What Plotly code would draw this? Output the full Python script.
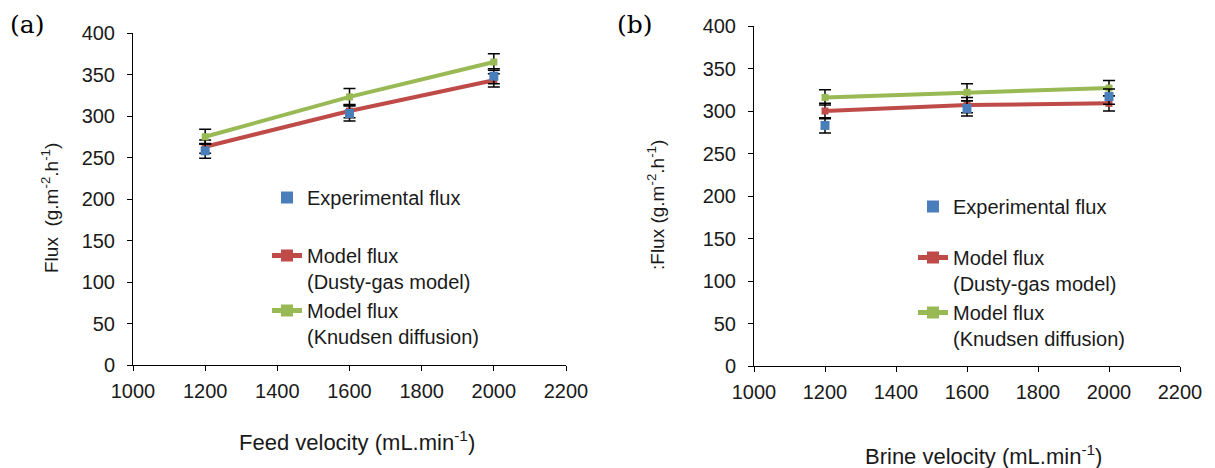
import plotly.graph_objects as go

# Panel (a): feed velocity
feed_velocity = [1200, 1600, 2000]
exp_flux_a = [258, 303, 348]
dusty_flux_a = [263, 306, 343]
knudsen_flux_a = [275, 323, 365]
err_exp_a = [9, 9, 9]
err_dusty_a = [8, 8, 8]
err_knudsen_a = [9, 10, 10]

# Panel (b): brine velocity
brine_velocity = [1200, 1600, 2000]
exp_flux_b = [283, 303, 317]
dusty_flux_b = [300, 307, 309]
knudsen_flux_b = [316, 322, 327]
err_exp_b = [9, 9, 9]
err_dusty_b = [9, 9, 9]
err_knudsen_b = [9, 10, 9]

x_ticks = [1000, 1200, 1400, 1600, 1800, 2000, 2200]
y_ticks = [0, 50, 100, 150, 200, 250, 300, 350, 400]

BLUE = "#4A7EBB"
RED = "#BE4B48"
GREEN = "#98B954"
FONT = "Liberation Sans, Arial, sans-serif"
TXT = "#1a1a1a"

fig = go.Figure()

def err(vals):
    return dict(type="data", array=vals, visible=True, color="black", thickness=1.5, width=6)

def add_panel(xv, exp, dusty, knud, e_exp, e_dusty, e_knud, xa, ya, leg):
    fig.add_trace(go.Scatter(
        x=xv, y=dusty, mode="lines+markers", name="Model flux<br>(Dusty-gas model)",
        line=dict(color=RED, width=4), marker=dict(symbol="square", size=7, color=RED),
        error_y=err(e_dusty), xaxis=xa, yaxis=ya, legend=leg, legendgroup="model" + leg,
        legendrank=2))
    fig.add_trace(go.Scatter(
        x=xv, y=knud, mode="lines+markers", name="Model flux<br>(Knudsen diffusion)",
        line=dict(color=GREEN, width=4), marker=dict(symbol="square", size=7, color=GREEN),
        error_y=err(e_knud), xaxis=xa, yaxis=ya, legend=leg, legendgroup="model" + leg,
        legendrank=3))
    fig.add_trace(go.Scatter(
        x=xv, y=exp, mode="markers", name="Experimental flux",
        marker=dict(symbol="square", size=9, color=BLUE),
        error_y=err(e_exp), xaxis=xa, yaxis=ya, legend=leg, legendgroup="exp" + leg,
        legendrank=1))

add_panel(feed_velocity, exp_flux_a, dusty_flux_a, knudsen_flux_a,
          err_exp_a, err_dusty_a, err_knudsen_a, "x", "y", "legend")
add_panel(brine_velocity, exp_flux_b, dusty_flux_b, knudsen_flux_b,
          err_exp_b, err_dusty_b, err_knudsen_b, "x2", "y2", "legend2")

W, H = 1215, 468

def xdom(l, r):
    return [l / W, r / W]

def ydom(t, b):
    return [1 - b / H, 1 - t / H]

axis_common = dict(
    showgrid=False, zeroline=False, showline=True, linecolor="black", linewidth=1,
    ticks="outside", ticklen=5, tickcolor="black", automargin=False,
    tickfont=dict(family=FONT, size=20, color=TXT),
)

legend_common = dict(
    font=dict(family=FONT, size=20, color=TXT),
    bgcolor="rgba(0,0,0,0)", traceorder="grouped",
    xanchor="left", yanchor="top", itemsizing="constant", valign="top",
)

fig.update_layout(
    width=W, height=H, margin=dict(l=0, r=0, t=0, b=0, autoexpand=False),
    plot_bgcolor="white", paper_bgcolor="white",
    xaxis=dict(domain=xdom(133, 566), range=[1000, 2200], tickvals=x_ticks, anchor="y",
               ticklabelstandoff=3, **axis_common),
    yaxis=dict(domain=ydom(33, 365), range=[0, 400], tickvals=y_ticks, anchor="x",
               ticklabelstandoff=8, **axis_common),
    xaxis2=dict(domain=xdom(754, 1180), range=[1000, 2200], tickvals=x_ticks, anchor="y2",
                ticklabelstandoff=3, **axis_common),
    yaxis2=dict(domain=ydom(26, 366), range=[0, 400], tickvals=y_ticks, anchor="x2",
                ticklabelstandoff=8, **axis_common),
    legend=dict(x=267 / W, y=1 - 178 / H, tracegroupgap=29, **legend_common),
    legend2=dict(x=913 / W, y=1 - 187 / H, tracegroupgap=22, **legend_common),
    showlegend=True,
)

annots = [
    dict(text="(a)", x=8 / W, y=1 - 24 / H, xanchor="left", yanchor="middle",
         font=dict(family="DejaVu Serif, Liberation Serif, serif", size=25, color="black")),
    dict(text="(b)", x=615 / W, y=1 - 24 / H, xanchor="left", yanchor="middle",
         font=dict(family="DejaVu Serif, Liberation Serif, serif", size=25, color="black")),
    dict(text="Flux  (g.m<sup>-2</sup>.h<sup>-1</sup>)", x=50 / W, y=1 - 208 / H, textangle=-90,
         xanchor="center", yanchor="middle", font=dict(family=FONT, size=19, color=TXT)),
    dict(text=":Flux (g.m<sup>-2</sup>.h<sup>-1</sup>)", x=656 / W, y=1 - 205 / H, textangle=-90,
         xanchor="center", yanchor="middle", font=dict(family=FONT, size=19, color=TXT)),
    dict(text="Feed velocity (mL.min<sup>-1</sup>)", x=357 / W, y=1 - 441 / H,
         xanchor="center", yanchor="middle", font=dict(family=FONT, size=22, color=TXT)),
    dict(text="Brine velocity (mL.min<sup>-1</sup>)", x=983 / W, y=1 - 455 / H,
         xanchor="center", yanchor="middle", font=dict(family=FONT, size=22, color=TXT)),
]
for a in annots:
    a.update(xref="paper", yref="paper", showarrow=False)
    fig.add_annotation(**a)

fig.write_html("out.html")
